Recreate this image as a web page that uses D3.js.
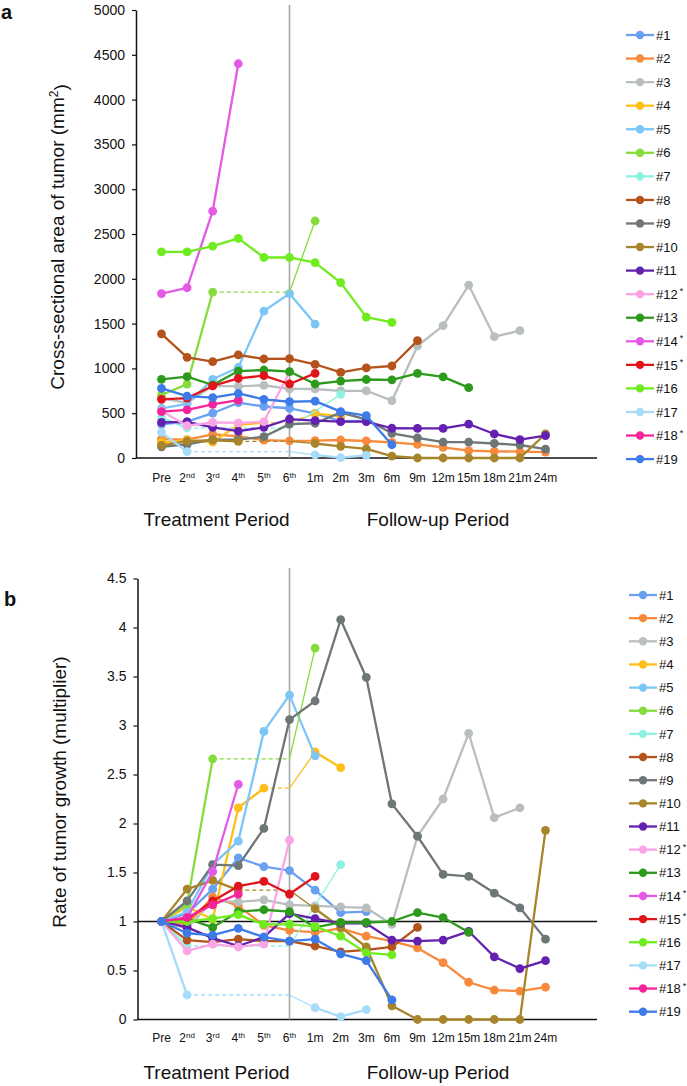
<!DOCTYPE html>
<html>
<head>
<meta charset="utf-8">
<script src="https://cdn.jsdelivr.net/npm/d3@7"></script>
<style>
  body { margin: 0; background: #fff; }
  svg text { font-family: "Liberation Sans", Arial, sans-serif; fill: #111; }
</style>
</head>
<body>
<svg id="chart" width="687" height="1086"></svg>
<script>
// time points (treatment cycles, then follow-up months)
const periods = ['Pre', '2nd', '3rd', '4th', '5th', '6th', '1m', '2m', '3m', '6m', '9m', '12m', '15m', '18m', '21m', '24m'];
const periodBase = ['Pre', '2', '3', '4', '5', '6', '1m', '2m', '3m', '6m', '9m', '12m', '15m', '18m', '21m', '24m'];
const periodSup = ['', 'nd', 'rd', 'th', 'th', 'th', '', '', '', '', '', '', '', '', '', ''];

const patients = ['#1', '#2', '#3', '#4', '#5', '#6', '#7', '#8', '#9', '#10', '#11', '#12', '#13', '#14', '#15', '#16', '#17', '#18', '#19'];
const starred = ['#12', '#14', '#15', '#18'];
const colors = ['#6aa0f0', '#f78a3c', '#b9bebe', '#ffbf1a', '#7cc6f7', '#86dc3c', '#8ef2e2', '#b4541c', '#6f7678', '#a8852a',
  '#6420b0', '#faa6e6', '#2d9a1e', '#e45ae6', '#e0141a', '#6fec1e', '#a6dcf8', '#f4259a', '#3c7be8'];

// panel a: cross-sectional area (mm2), null = not measured
const areaValues = [
  [376, 405, 500, 617, 575, 555, 499, 410, 414],
  [210, 205, 265, 242, 200, 192, 193, 201, 190, 175, 153, 118, 82, 74, 72, 66],
  [665, 615, 805, 800, 812, 772, 770, 750, 750, 640, 1250, 1478, 1930, 1354, 1421],
  [175, 200, 178, 370, 395, null, 495, 467],
  [555, 605, 878, 1010, 1640, 1835, 1495],
  [703, 825, 1852, null, null, null, 2645],
  [450, 335, null, null, null, null, null, 710],
  [1385, 1124, 1075, 1150, 1105, 1108, 1046, 955, 1005, 1027, 1310],
  [125, 152, 205, 205, 238, 378, 388, 507, 430, 275, 225, 178, 178, 162, 145, 100],
  [140, 187, 198, 185, null, null, 162, 130, 102, 20, 0, 0, 0, 0, 0, 270],
  [398, 402, 342, 300, 342, 435, 417, 405, 405, 332, 330, 330, 379, 268, 205, 250],
  [525, 360, 398, 392, 405, 960],
  [878, 908, 815, 970, 982, 965, 826, 859, 876, 872, 945, 906, 785],
  [1835, 1900, 2755, 4400],
  [655, 668, 804, 889, 919, 826, 945],
  [2300, 2300, 2365, 2452, 2238, 2238, 2180, 1958, 1572, 1514],
  [285, 72, null, null, null, null, 35, 5, 30],
  [517, 536, 599, 647],
  [777, 690, 673, 720, 655, 628, 635, 517, 472, 148]
];

// panel b: growth rate relative to Pre
const growthValues = [
  [1, 1.08, 1.33, 1.65, 1.56, 1.52, 1.32, 1.09, 1.1],
  [1, 0.97, 1.25, 1.16, 0.96, 0.91, 0.89, 0.93, 0.85, 0.8, 0.73, 0.58, 0.38, 0.3, 0.29, 0.33],
  [1, 0.93, 1.21, 1.2, 1.22, 1.17, 1.16, 1.15, 1.14, 0.97, 1.87, 2.25, 2.92, 2.06, 2.16],
  [1, 1.15, 1.02, 2.16, 2.36, null, 2.73, 2.57],
  [1, 1.1, 1.58, 1.82, 2.94, 3.31, 2.69],
  [1, 1.18, 2.66, null, null, null, 3.79],
  [1, 0.75, null, null, null, null, null, 1.58],
  [1, 0.81, 0.79, 0.82, 0.8, 0.8, 0.75, 0.69, 0.71, 0.74, 0.94],
  [1, 1.21, 1.58, 1.57, 1.95, 3.06, 3.25, 4.08, 3.49, 2.2, 1.87, 1.48, 1.46, 1.29, 1.14, 0.82],
  [1, 1.33, 1.42, 1.32, null, null, 1.13, 0.94, 0.74, 0.14, 0, 0, 0, 0, 0, 1.93],
  [1, 0.94, 0.83, 0.75, 0.84, 1.08, 1.03, 0.98, 0.98, 0.81, 0.8, 0.81, 0.9, 0.64, 0.52, 0.6],
  [1, 0.7, 0.77, 0.74, 0.77, 1.83],
  [1, 1.03, 0.94, 1.1, 1.12, 1.1, 0.94, 0.99, 0.99, 1.0, 1.09, 1.04, 0.89],
  [1, 1.04, 1.51, 2.4],
  [1, 1.02, 1.21, 1.36, 1.41, 1.28, 1.46],
  [1, 1.0, 1.03, 1.07, 0.97, 0.97, 0.95, 0.85, 0.68, 0.66],
  [1, 0.25, null, null, null, null, 0.12, 0.03, 0.1],
  [1, 1.04, 1.17, 1.28],
  [1, 0.88, 0.86, 0.93, 0.84, 0.8, 0.82, 0.67, 0.6, 0.2]
];

const areaTicks = d3.range(0, 5001, 500);
const growthTicks = d3.range(0, 4.51, 0.5);

const svg = d3.select('#chart');
const lastTreatment = periods.indexOf('6th');

function drawPanel(cfg) {
  const g = svg.append('g');
  const x = d3.scalePoint().domain(periods).range([161.5, 545.5]);
  const y = d3.scaleLinear().domain([0, cfg.yMax]).range([cfg.y0, cfg.y1]);

  // panel letter
  g.append('text')
    .attr('x', cfg.letterX).attr('y', cfg.letterY)
    .style('font-size', '20px').style('font-weight', 'bold')
    .text(cfg.letter);

  // y axis
  const yAxis = g.append('g')
    .attr('transform', `translate(${cfg.axisX},0)`)
    .call(d3.axisLeft(y).tickValues(cfg.ticks).tickSize(4).tickSizeOuter(0).tickPadding(7)
      .tickFormat(cfg.format));
  yAxis.select('.domain').attr('stroke', '#111').attr('stroke-width', 1.5);
  yAxis.selectAll('.tick line').attr('stroke', '#111').attr('stroke-width', 1.2);
  yAxis.selectAll('.tick text').style('font-size', '14px').attr('fill', '#111');

  // y title
  const title = g.append('text')
    .attr('transform', `translate(${cfg.titleX},${cfg.titleY}) rotate(-90)`)
    .attr('text-anchor', 'middle')
    .attr('dy', '0.35em')
    .style('font-size', '19px');
  title.append('tspan').text(cfg.title);
  if (cfg.titleSup) {
    title.append('tspan').attr('dy', '-0.45em').style('font-size', '12px').text(cfg.titleSup);
    title.append('tspan').attr('dy', '0.45em').text(')');
  }

  // x axis line
  g.append('line')
    .attr('x1', cfg.axisX).attr('x2', 597)
    .attr('y1', y(0)).attr('y2', y(0))
    .attr('stroke', '#111').attr('stroke-width', 1.5);

  // end of treatment marker
  g.append('line')
    .attr('x1', x(periods[lastTreatment])).attr('x2', x(periods[lastTreatment]))
    .attr('y1', cfg.vTop).attr('y2', y(0))
    .attr('stroke', '#a3a8a8').attr('stroke-width', 1.6);

  if (cfg.refLine !== undefined) {
    g.append('line')
      .attr('x1', cfg.axisX).attr('x2', 597)
      .attr('y1', y(cfg.refLine)).attr('y2', y(cfg.refLine))
      .attr('stroke', '#111').attr('stroke-width', 1.5);
  }

  // x tick labels
  const xl = g.append('g').selectAll('text')
    .data(periods)
    .join('text')
    .attr('x', (d) => x(d))
    .attr('y', cfg.labelY)
    .attr('text-anchor', 'middle')
    .style('font-size', '12px');
  xl.append('tspan').text((d, i) => periodBase[i]);
  xl.append('tspan')
    .attr('dy', '-0.45em')
    .style('font-size', '8px')
    .text((d, i) => periodSup[i]);

  g.append('text').attr('x', 216.5).attr('y', cfg.periodY)
    .attr('text-anchor', 'middle').style('font-size', '19px').text('Treatment Period');
  g.append('text').attr('x', 438).attr('y', cfg.periodY)
    .attr('text-anchor', 'middle').style('font-size', '19px').text('Follow-up Period');

  // series
  const solid = d3.line()
    .defined((d) => d != null)
    .x((d, i) => x(periods[i]))
    .y((d) => y(d));

  cfg.values.forEach((vals, s) => {
    const col = colors[s];
    const sg = g.append('g');
    sg.append('path')
      .attr('d', solid(vals))
      .attr('fill', 'none')
      .attr('stroke', col)
      .attr('stroke-width', 2.3)
      .attr('stroke-linejoin', 'round');

    // gaps: carry last value (dashed) to the end of treatment, then thin line to next measurement
    const real = vals.map((v, i) => (v != null ? i : -1)).filter((i) => i >= 0);
    for (let k = 0; k < real.length - 1; k++) {
      const a = real[k];
      const b = real[k + 1];
      if (b - a < 2) continue;
      const va = vals[a];
      const vb = vals[b];
      const mid = (a < lastTreatment && b > lastTreatment) ? lastTreatment : b;
      sg.append('line')
        .attr('x1', x(periods[a])).attr('x2', x(periods[mid]))
        .attr('y1', y(va)).attr('y2', y(mid === b ? vb : va))
        .attr('stroke', col).attr('stroke-width', 1.3)
        .attr('stroke-dasharray', '4,3');
      if (mid !== b) {
        sg.append('line')
          .attr('x1', x(periods[mid])).attr('x2', x(periods[b]))
          .attr('y1', y(va)).attr('y2', y(vb))
          .attr('stroke', col).attr('stroke-width', 1.3);
      }
    }

    sg.selectAll('circle')
      .data(vals.map((v, i) => ({ v, i })).filter((d) => d.v != null))
      .join('circle')
      .attr('cx', (d) => x(periods[d.i]))
      .attr('cy', (d) => y(d.v))
      .attr('r', 4.4)
      .attr('fill', col);
  });

  // legend
  const lg = g.append('g').selectAll('g')
    .data(patients)
    .join('g')
    .attr('transform', (d, i) => `translate(${cfg.legendX},${cfg.legendTop + i * cfg.legendStep})`);
  lg.append('line')
    .attr('x1', 0).attr('x2', 28)
    .attr('stroke', (d, i) => colors[i]).attr('stroke-width', 2.3);
  lg.append('circle')
    .attr('cx', 14).attr('r', 4.2)
    .attr('fill', (d, i) => colors[i]);
  const lt = lg.append('text')
    .attr('x', 30).attr('dy', '0.36em')
    .style('font-size', '13px');
  lt.append('tspan').text((d) => d);
  lt.append('tspan')
    .attr('dx', 2).attr('dy', '-0.5em')
    .style('font-size', '9px')
    .text((d) => (starred.includes(d) ? '*' : ''));
}

drawPanel({
  letter: 'a', letterX: 1, letterY: 19,
  yMax: 5000, y0: 458, y1: 10, axisX: 136, ticks: areaTicks,
  format: d3.format('d'),
  title: 'Cross-sectional area of tumor (mm', titleSup: '2', titleX: 57, titleY: 237,
  vTop: 5, labelY: 482, periodY: 526,
  values: areaValues,
  legendX: 626, legendTop: 35, legendStep: 23.56
});

drawPanel({
  letter: 'b', letterX: 4, letterY: 606,
  yMax: 4.5, y0: 1019.5, y1: 578.5, axisX: 137.5, ticks: growthTicks,
  format: (d) => String(d),
  title: 'Rate of tumor growth (multiplier)', titleX: 59, titleY: 792,
  vTop: 568, labelY: 1042, periodY: 1079, refLine: 1,
  values: growthValues,
  legendX: 629, legendTop: 595, legendStep: 23.15
});
</script>
</body>
</html>
